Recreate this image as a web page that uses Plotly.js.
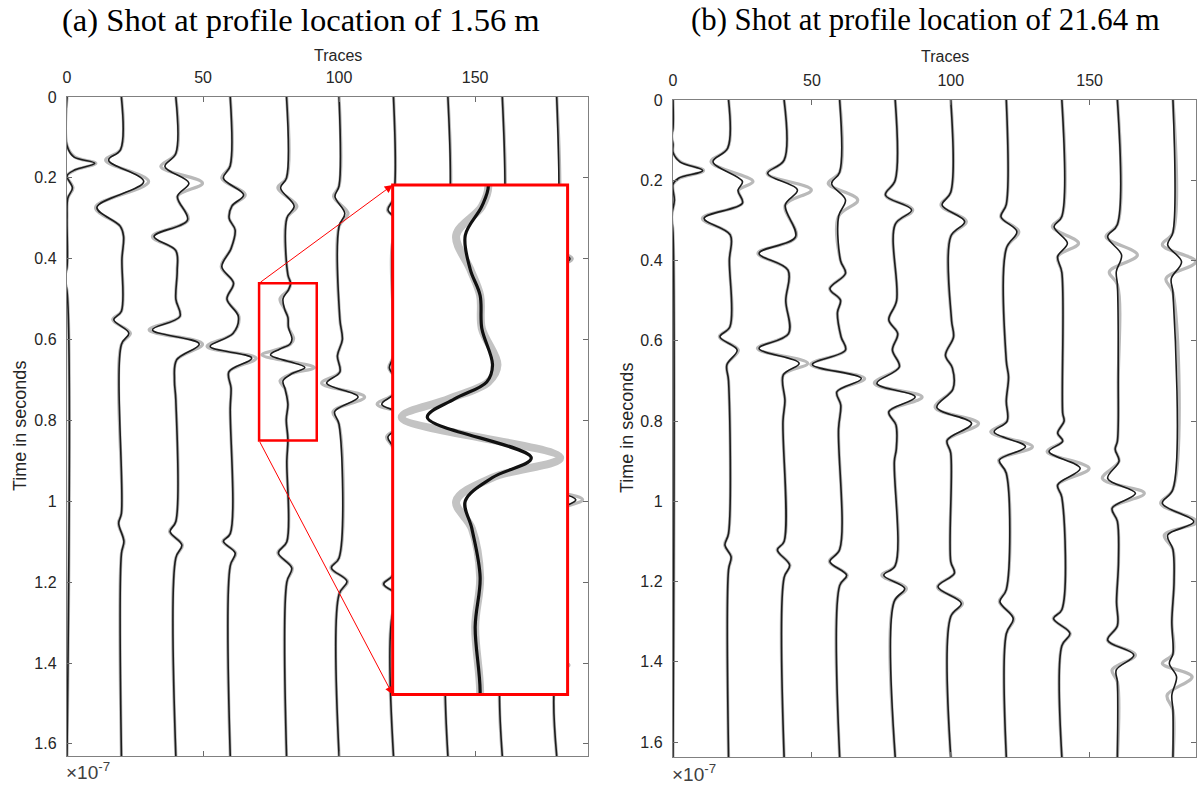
<!DOCTYPE html>
<html>
<head>
<meta charset="utf-8">
<script src="https://cdn.plot.ly/plotly-3.0.1.min.js"></script>
<style>
  html, body { margin: 0; padding: 0; background: #ffffff; }
  #chart { width: 1200px; height: 790px; }
</style>
</head>
<body>
<div id="chart"></div>
<script>
// Trace positions (trace number of each plotted receiver)
const tracePos = [0, 20, 40, 60, 80, 100, 120, 140, 160, 180];

// Axis ticks
const xTickVals = [0, 50, 100, 150];
const yTickVals = [0, 0.2, 0.4, 0.6, 0.8, 1, 1.2, 1.4, 1.6];
const yTickText = ['0', '0.2', '0.4', '0.6', '0.8', '1', '1.2', '1.4', '1.6'];

// ---------- Shot at 1.56 m : time samples (x1e-7 s), observed (k) and modelled (g) deflections ----------
const a00_t = [0, 0.12, 0.148, 0.164, 0.18, 0.195, 0.225, 0.25, 0.3, 0.42, 0.45, 0.48, 1.63];
const a00_k = [0, 0, 2.5, 10.2, 3.0, 0, 2.0, 0.3, 0, 0, -1.0, 0, 0];
const a00_g = [0, 0, 2.8, 10.6, 3.2, 0, 2.2, 0.3, 0, 0, -1.0, 0, 0];

const a20_t = [0, 0.13, 0.156, 0.209, 0.273, 0.32, 0.345, 0.4, 0.53, 0.551, 0.584, 0.612, 1.03, 1.054, 1.099, 1.13, 1.63];
const a20_k = [0, -0.3, -4.7, 8.2, -9.0, -0.4, 0.8, 0.2, 0, -2.8, 2.7, 0, 0, -1.0, 0.9, 0, 0];
const a20_g = [0, -0.3, -5.8, 10.0, -9.5, -0.4, 0.8, 0.2, 0, -3.2, 3.3, 0, 0, -1.1, 1.0, 0, 0];

const a40_t = [0, 0.14, 0.172, 0.213, 0.246, 0.304, 0.345, 0.38, 0.43, 0.5, 0.543, 0.576, 0.611, 0.65, 0.7, 0.75, 1.05, 1.075, 1.108, 1.14, 1.63];
const a40_k = [0, 0, -4.0, 4.8, 0.6, 4.3, -8.0, 0, 0.5, 0, 1.5, -8.6, 8.6, 0.3, -0.5, 0, 0, -2.1, 2.2, 0, 0];
const a40_g = [0, 0, -5.5, 9.8, 0.6, 4.5, -8.6, 0, 0.5, 0, 1.5, -9.8, 9.8, 0.3, -0.5, 0, 0, -2.3, 2.4, 0, 0];

const a60_t = [0, 0.17, 0.201, 0.242, 0.27, 0.3, 0.329, 0.375, 0.42, 0.46, 0.5, 0.543, 0.585, 0.617, 0.646, 0.68, 0.72, 0.77, 1.08, 1.099, 1.128, 1.16, 1.63];
const a60_k = [0, 0, -2.5, 4.9, 0.6, -0.4, 1.8, 0.3, -3.1, 1.2, -1.2, 3.0, 1.0, -7.4, 7.9, -0.5, 0.3, 0, 0, -2.5, 1.8, 0, 0];
const a60_g = [0, 0, -3.1, 5.5, 0.6, -0.4, 1.8, 0.3, -3.3, 1.2, -1.2, 3.2, 1.0, -8.5, 9.5, -0.5, 0.3, 0, 0, -2.7, 2.0, 0, 0];

const a80_t = [0, 0.2, 0.225, 0.27, 0.3, 0.44, 0.461, 0.477, 0.499, 0.525, 0.545, 0.57, 0.598, 0.611, 0.624, 0.638, 0.669, 0.684, 0.702, 0.723, 0.76, 0.798, 0.847, 0.9, 1.1, 1.128, 1.165, 1.2, 1.63];
const a80_k = [0.7, 0.7, -1.5, 3.5, 0.8, 1.2, 2.2, 1.4, -0.6, 0.0, 1.2, 1.4, 2.7, 2.0, -1.9, -5.2, 7.4, 2.7, -0.6, 0.2, 1.2, 0.6, 1.2, 0.8, 0.8, -2.3, 2.6, 0.8, 0.7];
const a80_g = [0.7, 0.7, -2.5, 4.5, 0.8, 1.2, 2.2, 1.4, -1.7, 0.0, 1.2, 1.4, 3.3, 2.2, -2.6, -8.3, 10.9, 2.7, -1.7, 0.2, 1.2, 0.6, 1.2, 0.8, 0.8, -2.5, 2.8, 0.8, 0.7];

const a100_t = [0, 0.22, 0.246, 0.288, 0.32, 0.55, 0.6, 0.64, 0.68, 0.708, 0.742, 0.778, 0.81, 1.14, 1.165, 1.198, 1.23, 1.63];
const a100_k = [0, 0, -1.5, 2.1, 0, 0.3, 1.2, -0.6, 0.3, -4.6, 7.0, -1.6, 0, 0, -2.8, 2.9, 0, 0];
const a100_g = [0, 0, -2.0, 3.3, 0, 0.3, 1.2, -0.6, 0.3, -6.4, 9.4, -2.2, 0, 0, -3.0, 3.1, 0, 0];

const a120_t = [0, 0.25, 0.28, 0.315, 0.35, 0.64, 0.67, 0.7, 0.735, 0.76, 0.795, 0.84, 0.87, 1.18, 1.205, 1.24, 1.27, 1.63];
const a120_k = [0, 0, -2.0, 3.0, 0, 0, -1.5, 1.0, 0, -4.3, 7.5, -2.0, 0, 0, -3.6, 3.4, 0, 0];
const a120_g = [0, 0, -2.2, 3.6, 0, 0, -1.7, 1.2, 0, -6.0, 9.8, -2.5, 0, 0, -3.8, 3.6, 0, 0];

const a140_t = [0, 0.3, 0.33, 0.37, 0.4, 0.82, 0.85, 0.89, 0.93, 1.25, 1.28, 1.32, 1.35, 1.63];
const a140_k = [0, 0, -2.5, 3.0, 0, 0, -4.5, 7.5, 0, 0, -3.0, 3.0, 0, 0];
const a140_g = [0, 0, -3.0, 4.0, 0, 0, -5.5, 9.5, 0, 0, -3.2, 3.4, 0, 0];

const a160_t = [0, 0.33, 0.36, 0.4, 0.43, 0.88, 0.91, 0.95, 0.99, 1.3, 1.33, 1.37, 1.4, 1.63];
const a160_k = [0, 0, -2.5, 3.5, 0, 0, -4.5, 7.5, 0, 0, -3.0, 3.5, 0, 0];
const a160_g = [0, 0, -3.0, 4.5, 0, 0, -5.5, 9.5, 0, 0, -3.2, 3.8, 0, 0];

const a180_t = [0, 0.34, 0.37, 0.4, 0.43, 0.94, 0.965, 0.996, 1.03, 1.36, 1.385, 1.405, 1.43, 1.63];
const a180_k = [0, 0, -2.0, 4.9, 0, 0, -4.0, 7.0, 0, 0, -2.5, 4.0, 0, 0];
const a180_g = [0, 0, -3.0, 5.7, 0, 0, -4.5, 9.5, 0, 0, -3.0, 4.5, 0, 0];

// ---------- Shot at 21.64 m ----------
const b00_t = [0, 0.07, 0.09, 0.11, 0.13, 0.154, 0.176, 0.195, 0.21, 0.25, 0.29, 0.33, 1.637];
const b00_k = [0, 0, -0.5, 0, 0, 2.5, 10.7, 2.0, 0, 0.5, -0.5, 0, 0];
const b00_g = [0, 0, -0.5, 0, 0, 2.7, 11.0, 2.2, 0, 0.5, -0.5, 0, 0];

const b20_t = [0, 0.12, 0.154, 0.203, 0.225, 0.257, 0.295, 0.336, 0.4, 0.565, 0.59, 0.623, 0.66, 0.7, 1.08, 1.109, 1.138, 1.17, 1.637];
const b20_k = [0, -0.3, -5.6, 5.0, 3.4, 5.0, -8.8, 0.6, 0.3, 0.5, -3.1, 3.1, -0.6, 0, 0, -1.3, 0.9, 0, 0];
const b20_g = [0, -0.3, -6.3, 8.8, 3.6, 5.0, -9.4, 0.6, 0.3, 0.5, -3.3, 3.5, -0.6, 0, 0, -1.4, 1.0, 0, 0];

const b40_t = [0, 0.15, 0.183, 0.224, 0.262, 0.341, 0.382, 0.424, 0.5, 0.582, 0.619, 0.656, 0.685, 0.75, 0.8, 1.1, 1.121, 1.159, 1.19, 1.637];
const b40_k = [0, 0, -5.9, 4.8, 0.4, 4.1, -9.0, 1.4, 0.6, 1.6, -9.0, 5.4, -0.3, 0.3, -0.4, 0, -2.4, 2.0, 0, 0];
const b40_g = [0, 0, -6.1, 9.8, 0.4, 4.3, -9.4, 1.4, 0.6, 1.6, -9.6, 8.5, -0.3, 0.3, -0.4, 0, -2.5, 2.1, 0, 0];

const b60_t = [0, 0.18, 0.208, 0.249, 0.29, 0.4, 0.432, 0.47, 0.499, 0.53, 0.59, 0.623, 0.659, 0.694, 0.727, 0.76, 0.82, 1.12, 1.15, 1.184, 1.21, 1.637];
const b60_k = [0, 0, -2.9, 2.1, -0.4, 0.3, 2.1, -3.5, 0.3, -0.8, 0.5, 2.1, -9.8, 7.8, -1.0, 0.4, -0.4, 0, -3.5, 2.5, 0, 0];
const b60_g = [0, 0, -4.1, 6.5, -0.4, 0.3, 2.1, -3.6, 0.3, -0.8, 0.5, 2.1, -10.4, 9.0, -1.0, 0.4, -0.4, 0, -3.7, 2.7, 0, 0];

const b80_t = [0, 0.2, 0.237, 0.274, 0.31, 0.5, 0.548, 0.582, 0.623, 0.665, 0.706, 0.74, 0.777, 0.81, 0.87, 0.9, 1.16, 1.184, 1.217, 1.25, 1.637];
const b80_k = [0, 0, -3.5, 5.9, 0, 0.5, -2.3, 0.9, -1.0, 1.5, -6.6, 7.2, -2.3, 0.3, 0.4, -0.3, 0, -4.1, 3.4, -0.4, 0];
const b80_g = [0, 0, -3.5, 6.3, 0, 0.5, -2.3, 0.9, -1.0, 1.5, -7.5, 9.7, -2.3, 0.3, 0.4, -0.3, 0, -4.8, 4.0, -0.4, 0];

const b100_t = [0, 0.23, 0.262, 0.303, 0.34, 0.55, 0.59, 0.636, 0.668, 0.72, 0.766, 0.806, 0.848, 0.88, 1.15, 1.179, 1.213, 1.254, 1.287, 1.637];
const b100_k = [0, 0, -3.1, 5.0, 0, 0.3, 1.0, -1.9, 0.6, 0.8, -5.0, 7.5, -1.3, 0, 0, 1.3, -4.6, 3.8, 0, 0];
const b100_g = [0, 0, -3.5, 5.6, 0, 0.3, 1.0, -1.9, 0.6, 0.8, -5.6, 10.0, -1.3, 0, 0, 1.3, -4.8, 4.2, 0, 0];

const b120_t = [0, 0.26, 0.291, 0.328, 0.37, 0.65, 0.69, 0.75, 0.8, 0.827, 0.864, 0.897, 0.93, 1.22, 1.25, 1.292, 1.33, 1.637];
const b120_k = [0, 0, -1.9, 3.8, 0, 0, 0.8, 0, 0.3, -4.4, 6.9, -2.5, 0, 0, -2.3, 2.5, 0, 0];
const b120_g = [0, 0, -2.0, 4.5, 0, 0, 0.8, 0, 0.3, -5.6, 9.4, -2.7, 0, 0, -2.5, 2.7, 0, 0];

const b140_t = [0, 0.29, 0.316, 0.357, 0.39, 0.43, 0.78, 0.8, 0.83, 0.85, 0.876, 0.918, 0.959, 0.99, 1.27, 1.292, 1.329, 1.36, 1.637];
const b140_k = [0, 0, -2.8, 2.0, -1.5, 0, 0.3, 0.8, -1.5, 0.3, -4.6, 6.6, -1.5, 0, 0, -3.0, 2.9, 0, 0];
const b140_g = [0, 0, -3.4, 6.0, -1.5, 0, 0.3, 0.8, -1.5, 0.3, -5.3, 9.8, -1.5, 0, 0, -3.1, 3.0, 0, 0];

const b160_t = [0, 0.31, 0.341, 0.386, 0.428, 0.46, 0.7, 0.85, 0.87, 0.9, 0.943, 0.98, 1.017, 1.05, 1.15, 1.25, 1.31, 1.346, 1.383, 1.42, 1.45, 1.637];
const b160_k = [0, 0, -3.5, 1.5, -0.4, 0, 0.3, 0, -0.8, 0.6, -3.5, 6.5, -1.9, 0, 0.4, -0.3, 0, -3.5, 5.9, -0.4, 0, 0];
const b160_g = [0, 0, -4.1, 7.2, -2.9, 0, 0.3, 0, -0.8, 0.6, -5.4, 9.7, -1.9, 0, 0.4, -0.3, 0, -3.6, 6.5, -1.9, 0, 0];

const b180_t = [0, 0.33, 0.361, 0.403, 0.445, 0.48, 0.97, 1.005, 1.051, 1.084, 1.12, 1.2, 1.3, 1.38, 1.404, 1.437, 1.483, 1.52, 1.637];
const b180_k = [0, 0, -1.9, 3.1, -0.6, 0, 0, -3.8, 7.5, -1.9, 0, 0.4, -0.4, 0, -1.3, 1.3, -0.4, 0, 0];
const b180_g = [0, 0, -3.8, 8.2, -2.5, 0, 0, -4.4, 8.5, -3.1, 0, 0.4, -0.4, 0, -3.8, 6.9, -2.1, 0, 0];

const panelA = [
  [a00_t, a00_k, a00_g], [a20_t, a20_k, a20_g], [a40_t, a40_k, a40_g], [a60_t, a60_k, a60_g],
  [a80_t, a80_k, a80_g], [a100_t, a100_k, a100_g], [a120_t, a120_k, a120_g], [a140_t, a140_k, a140_g],
  [a160_t, a160_k, a160_g], [a180_t, a180_k, a180_g]
];
const panelB = [
  [b00_t, b00_k, b00_g], [b20_t, b20_k, b20_g], [b40_t, b40_k, b40_g], [b60_t, b60_k, b60_g],
  [b80_t, b80_k, b80_g], [b100_t, b100_k, b100_g], [b120_t, b120_k, b120_g], [b140_t, b140_k, b140_g],
  [b160_t, b160_k, b160_g], [b180_t, b180_k, b180_g]
];

// Magnified window on trace 80 (trace units, time) and where its enlargement sits in the left panel
const zoomX = [70.6, 91.8];
const zoomT = [0.4606, 0.8497];
const insetX = [119.7, 184.0];
const insetT = [0.2176, 1.478];

// ---------- figure geometry ----------
const W = 1200, H = 790;
const FONT = 'Liberation Sans, Arial, Helvetica, sans-serif';
const SERIF = 'Liberation Serif, Times New Roman, serif';
const boxA = { l: 67, r: 588, t: 97, b: 756 };
const boxB = { l: 673, r: 1196, t: 100, b: 757 };
const rangeXA = [0, 191.5], rangeTA = [1.63, 0];
const rangeXB = [0, 188.3], rangeTB = [1.637, 0];

const px = v => v / W;
const py = v => 1 - v / H;
const domX = b => [px(b.l), px(b.r)];
const domY = b => [py(b.b), py(b.t)];

// data -> paper for the left panel (used to place the enlarged view)
const dA = { x: domX(boxA), y: domY(boxA) };
const paperXA = v => dA.x[0] + (v - rangeXA[0]) / (rangeXA[1] - rangeXA[0]) * (dA.x[1] - dA.x[0]);
const paperYA = v => dA.y[1] - (v - rangeTA[1]) / (rangeTA[0] - rangeTA[1]) * (dA.y[1] - dA.y[0]);

// ---------- traces ----------
const data = [];
function wiggle(base, t, off, color, width, xa, ya) {
  data.push({
    type: 'scatter', mode: 'lines',
    x: off.map(v => base + v), y: t,
    line: { color: color, width: width, shape: 'spline', smoothing: 1 },
    xaxis: xa, yaxis: ya, hoverinfo: 'skip', showlegend: false
  });
}
const GRAY = '#b9b9b9', BLACK = '#1c1c1c';

panelA.forEach((s, i) => wiggle(tracePos[i], s[0], s[2], GRAY, 3.2, 'x', 'y'));
panelA.forEach((s, i) => wiggle(tracePos[i], s[0], s[1], BLACK, 1.6, 'x', 'y'));
panelB.forEach((s, i) => wiggle(tracePos[i], s[0], s[2], GRAY, 3.2, 'x2', 'y2'));
panelB.forEach((s, i) => wiggle(tracePos[i], s[0], s[1], BLACK, 1.6, 'x2', 'y2'));
// enlarged trace 80
wiggle(tracePos[4], a80_t, a80_g, '#c3c3c3', 8, 'x3', 'y3');
wiggle(tracePos[4], a80_t, a80_k, '#111111', 3.2, 'x3', 'y3');

// ---------- axes ----------
const axisBase = {
  showline: true, linecolor: '#808080', linewidth: 1.2, mirror: 'ticks',
  ticks: 'inside', ticklen: 5, tickwidth: 1, tickcolor: '#6a6a6a',
  showgrid: false, zeroline: false, fixedrange: true,
  tickfont: { family: FONT, size: 16, color: '#262626' }
};
const hiddenAxis = {
  showline: false, showticklabels: false, ticks: '', showgrid: false,
  zeroline: false, fixedrange: true
};

// red lines joining the small window to its enlargement
const arrowLine = { color: '#ff0000', width: 1 };

const layout = {
  width: W, height: H,
  margin: { l: 0, r: 0, t: 0, b: 0 },
  paper_bgcolor: '#ffffff', plot_bgcolor: '#ffffff',
  showlegend: false,
  xaxis: Object.assign({}, axisBase, { domain: domX(boxA), range: rangeXA, side: 'top', anchor: 'y', tickvals: xTickVals, ticklabelstandoff: 6 }),
  yaxis: Object.assign({}, axisBase, { domain: domY(boxA), range: rangeTA, anchor: 'x', tickvals: yTickVals, ticktext: yTickText, ticklabelstandoff: 6 }),
  xaxis2: Object.assign({}, axisBase, { domain: domX(boxB), range: rangeXB, side: 'top', anchor: 'y2', tickvals: xTickVals, ticklabelstandoff: 6 }),
  yaxis2: Object.assign({}, axisBase, { domain: domY(boxB), range: rangeTB, anchor: 'x2', tickvals: yTickVals, ticktext: yTickText, ticklabelstandoff: 6 }),
  xaxis3: Object.assign({}, hiddenAxis, { domain: [paperXA(insetX[0]), paperXA(insetX[1])], range: zoomX, anchor: 'y3' }),
  yaxis3: Object.assign({}, hiddenAxis, { domain: [paperYA(insetT[1]), paperYA(insetT[0])], range: [zoomT[1], zoomT[0]], anchor: 'x3' }),
  shapes: [
    { type: 'rect', xref: 'x', yref: 'y', x0: zoomX[0], x1: zoomX[1], y0: zoomT[0], y1: zoomT[1],
      line: { color: '#ff0000', width: 2.5 }, layer: 'above' },
    { type: 'rect', xref: 'x', yref: 'y', x0: insetX[0], x1: insetX[1], y0: insetT[0], y1: insetT[1],
      line: { color: '#ff0000', width: 3 }, layer: 'above' }
  ],
  annotations: [
    { xref: 'paper', yref: 'paper', x: px(301), y: py(20), text: '(a) Shot at profile location of 1.56 m',
      showarrow: false, xanchor: 'center', yanchor: 'middle', font: { family: SERIF, size: 32.6, color: '#000' } },
    { xref: 'paper', yref: 'paper', x: px(926), y: py(20), text: '(b) Shot at profile location of 21.64 m',
      showarrow: false, xanchor: 'center', yanchor: 'middle', font: { family: SERIF, size: 30.8, color: '#000' } },
    { xref: 'paper', yref: 'paper', x: px(338), y: py(55), text: 'Traces',
      showarrow: false, xanchor: 'center', yanchor: 'middle', font: { family: FONT, size: 16, color: '#262626' } },
    { xref: 'paper', yref: 'paper', x: px(945), y: py(57), text: 'Traces',
      showarrow: false, xanchor: 'center', yanchor: 'middle', font: { family: FONT, size: 16, color: '#262626' } },
    { xref: 'paper', yref: 'paper', x: px(20), y: py(426), text: 'Time in seconds', textangle: -90,
      showarrow: false, xanchor: 'center', yanchor: 'middle', font: { family: FONT, size: 18, color: '#262626' } },
    { xref: 'paper', yref: 'paper', x: px(627), y: py(428), text: 'Time in seconds', textangle: -90,
      showarrow: false, xanchor: 'center', yanchor: 'middle', font: { family: FONT, size: 18, color: '#262626' } },
    { xref: 'paper', yref: 'paper', x: px(64), y: py(771), text: '×10<sup>-7</sup>',
      showarrow: false, xanchor: 'left', yanchor: 'middle', font: { family: FONT, size: 19, color: '#404040' } },
    { xref: 'paper', yref: 'paper', x: px(670), y: py(773), text: '×10<sup>-7</sup>',
      showarrow: false, xanchor: 'left', yanchor: 'middle', font: { family: FONT, size: 19, color: '#404040' } },
    // arrows from the small window to the enlarged view
    { xref: 'x', yref: 'y', axref: 'x', ayref: 'y', x: insetX[0], y: insetT[0], ax: zoomX[0], ay: zoomT[0],
      text: '', showarrow: true, arrowhead: 2, arrowsize: 1.6, arrowwidth: arrowLine.width, arrowcolor: arrowLine.color, standoff: 0 },
    { xref: 'x', yref: 'y', axref: 'x', ayref: 'y', x: insetX[0], y: insetT[1], ax: zoomX[0], ay: zoomT[1],
      text: '', showarrow: true, arrowhead: 2, arrowsize: 1.6, arrowwidth: arrowLine.width, arrowcolor: arrowLine.color, standoff: 0 }
  ]
};

Plotly.newPlot('chart', data, layout, { staticPlot: true, displayModeBar: false });
</script>
</body>
</html>
